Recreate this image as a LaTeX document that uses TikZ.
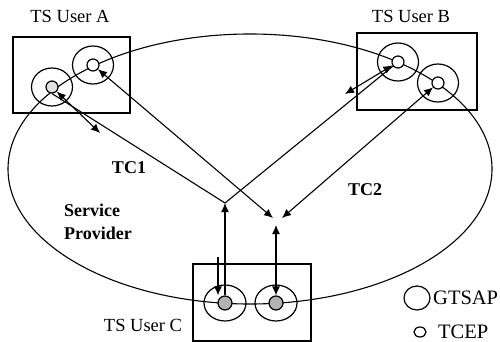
\documentclass[tikz,border=0pt]{standalone}
\usepackage{fontspec}
\setmainfont{Liberation Serif}
\usetikzlibrary{arrows.meta}
\usetikzlibrary{shapes.geometric}
\colorlet{tcepGray}{black!30}
\colorlet{tcepLight}{black!12}
\tikzset{
  gtsap/.style={draw, ellipse, line width=1.2pt, inner sep=0pt, minimum width=41pt, minimum height=38pt},
  tcep/.style={draw, circle, line width=1.2pt, inner sep=0pt, fill=white, minimum size=12pt},
  userbox/.style={draw, line width=1.2pt},
  conn/.style={line width=1.1pt},
  tsuser/.style={inner sep=0pt, font=\fontsize{18.5}{20}\selectfont},
  tclabel/.style={inner sep=0pt, font=\fontsize{18}{23}\selectfont\bfseries},
  keytext/.style={inner sep=0pt, anchor=west, font=\fontsize{20.5}{22}\selectfont},
}

\begin{document}
\begin{tikzpicture}[x=1pt, y=-1pt, >={Latex[length=9pt,width=8pt]}]
  \useasboundingbox (0,0) rectangle (500,342);

  \node[ellipse, draw, conn, inner sep=0pt, minimum width=484pt, minimum height=270pt] (provider) at (250,169) {};

  \draw[userbox] (13,37) rectangle (130,113);
  \draw[userbox] (357,33) rectangle (477,110);
  \draw[userbox] (193,264) rectangle (311,341);

  \node[gtsap] (a1) at (52,87) {};
  \node[gtsap] (a2) at (93,65) {};
  \node[gtsap] (b1) at (398,62) {};
  \node[gtsap] (b2) at (438,83) {};
  \node[gtsap, minimum width=42pt, minimum height=36pt] (c1) at (225,303) {};
  \node[gtsap, minimum width=42pt, minimum height=36pt] (c2) at (276,303) {};

  \node[tcep, fill=tcepLight] (a1e) at (a1) {};
  \node[tcep] (a2e) at (a2) {};
  \node[tcep] (b1e) at (b1) {};
  \node[tcep] (b2e) at (b2) {};
  \node[tcep, fill=tcepGray, minimum size=14pt] (c1e) at (c1) {};
  \node[tcep, fill=tcepGray, minimum size=14pt] (c2e) at (c2) {};

  \coordinate (tipL) at (225,203);
  \coordinate (tipRa) at (273,218);
  \coordinate (tipRb) at (282,218);
  \coordinate (tipRc) at (276,225);
  \coordinate (a1out) at (100,133);
  \coordinate (b1out) at (345,94);
  \coordinate (c1in) at (218,257);

  \draw[conn, <->] (a1e) -- (a1out);
  \draw[conn] (a1e.south) -- (tipL);
  \draw[conn, <->] (a2e) -- (tipRa);
  \draw[conn, <->] (b1e) -- (b1out);
  \draw[conn] (b1e) -- (tipL);
  \draw[conn, <->] (b2e) -- (tipRb);
  \draw[conn, ->] (c1e) -- (tipL);
  \draw[conn, ->] (c1in) -- (c1in |- c1e.north);
  \draw[conn, <->] (c2e) -- (tipRc);

  \node[tsuser] (userA) at (70,16) {TS User A};
  \node[tsuser] (userB) at (411,16) {TS User B};
  \node[tsuser] (userC) at (143,325) {TS User C};
  \node[tclabel] (tc1) at (129,168) {TC1};
  \node[tclabel] (tc2) at (365,190) {TC2};
  \node[tclabel, align=left, anchor=west] (sp) at (64,222) {Service\\Provider};

  \node[gtsap, minimum width=26pt, minimum height=24pt] (keyG) at (417,298) {};
  \node[tcep, minimum width=12pt, minimum height=10pt, ellipse] (keyT) at (420,332) {};
  \node[keytext] (keyGtext) at (433,298) {GTSAP};
  \node[keytext] (keyTtext) at (438,332) {TCEP};
\end{tikzpicture}
\end{document}
